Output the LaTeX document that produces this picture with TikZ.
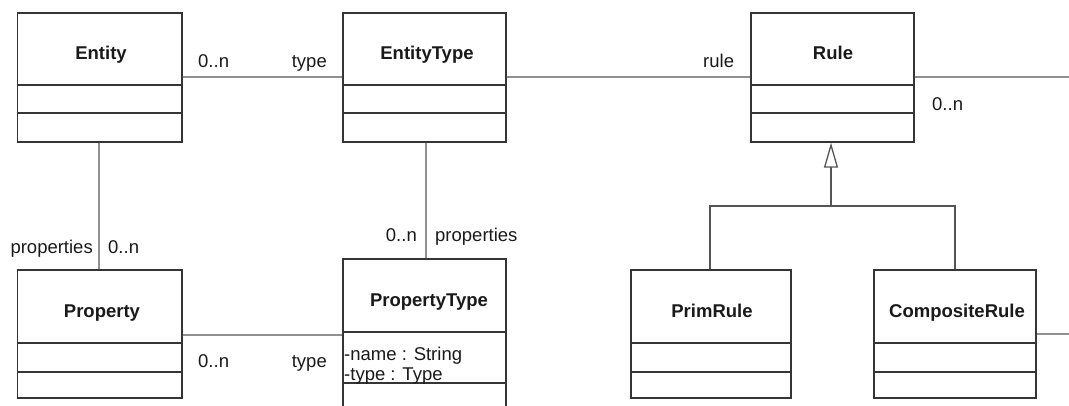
\documentclass[tikz,border=0pt]{standalone}
\usepackage{fontspec}
\setmainfont{Liberation Sans}
\usetikzlibrary{arrows.meta}
\definecolor{boxc}{HTML}{353535}
\definecolor{assoc}{HTML}{909090}
\definecolor{genc}{HTML}{555555}
\definecolor{txt}{HTML}{1A1A1A}
\tikzset{
  cls/.style={draw=boxc, line width=1.4pt, rectangle, inner sep=0pt, fill=white},
  divider/.style={draw=boxc, line width=1.4pt},
  title/.style={font=\fontsize{18.5}{20}\selectfont\bfseries, text=txt, anchor=base, inner sep=0pt},
  lbl/.style={font=\fontsize{18.5}{20}\selectfont, text=txt, inner sep=0pt},
  attr/.style={font=\fontsize{18.5}{20}\selectfont, text=txt, inner sep=0pt, anchor=base west},
  assocline/.style={draw=assoc, line width=1.3pt},
  genline/.style={draw=genc, line width=1.3pt},
}
\begin{document}
\begin{tikzpicture}[x=1pt, y=-1pt]
\useasboundingbox (0,0) rectangle (1069,406);
\clip (0,0) rectangle (1069,406);
\fill[white] (0,0) rectangle (1069,406);

% class boxes
\node[cls, minimum width=164.5pt, minimum height=129pt] (entity) at (99.75,77.5) {};
\node[cls, minimum width=163pt, minimum height=129pt] (etype) at (424.5,77.5) {};
\node[cls, minimum width=163pt, minimum height=129pt] (rule) at (832.5,77.5) {};
\node[cls, minimum width=164.5pt, minimum height=128pt] (property) at (99.75,334) {};
\node[cls, minimum width=163pt, minimum height=180pt] (ptype) at (424.5,349) {};
\node[cls, minimum width=160pt, minimum height=128pt] (prim) at (711,334) {};
\node[cls, minimum width=162pt, minimum height=128pt] (comp) at (955,334) {};

% compartments
\foreach \n in {entity,etype,rule}{
  \draw[divider] (\n.west |- 0,85) -- (\n.east |- 0,85);
  \draw[divider] (\n.west |- 0,113) -- (\n.east |- 0,113);
}
\foreach \n in {property,prim,comp}{
  \draw[divider] (\n.west |- 0,343) -- (\n.east |- 0,343);
  \draw[divider] (\n.west |- 0,372) -- (\n.east |- 0,372);
}
\draw[divider] (ptype.west |- 0,332) -- (ptype.east |- 0,332);
\draw[divider] (ptype.west |- 0,383) -- (ptype.east |- 0,383);

% titles
\node[title] (tEntity) at (101,60) {Entity};
\node[title] (tEType) at (427,60) {EntityType};
\node[title] (tRule) at (833,60) {Rule};
\node[title] (tProp) at (102,318) {Property};
\node[title] (tPType) at (429,306) {PropertyType};
\node[title] (tPrim) at (712,317) {PrimRule};
\node[title] (tComp) at (957,317) {CompositeRule};

% attributes
\node[attr] (a1) at (344,360) {-name : String};
\node[attr] (a2) at (344,380) {-type : Type};

% associations
\coordinate (rOut) at (1075,77);
\coordinate (cOut) at (1075,334);
\draw[assocline] (entity.east |- 0,77) -- (etype.west |- 0,77);
\draw[assocline] (etype.east |- 0,77) -- (rule.west |- 0,77);
\draw[assocline] (rule.east |- rOut) -- (rOut);
\draw[assocline] (entity.south -| 99,0) -- (property.north -| 99,0);
\draw[assocline] (etype.south -| 426,0) -- (ptype.north -| 426,0);
\draw[assocline] (property.east |- 0,335) -- (ptype.west |- 0,335);
\draw[assocline] (comp.east |- cOut) -- (cOut);

% generalization
\coordinate (gj) at (831,206);
\draw[genline] (prim.north -| 710,0) |- (gj) -| (comp.north);
\draw[genline, -{Triangle[open, length=25pt, width=14pt, line width=1.3pt]}] (gj) -- (rule.south -| 831,0);

% multiplicity / role labels
\node[lbl, anchor=base west] (m1) at (198,68) {0..n};
\node[lbl, anchor=base east] (r1) at (327,68) {type};
\node[lbl, anchor=base west] (r2) at (703,68) {rule};
\node[lbl, anchor=base west] (m2) at (932,111) {0..n};
\node[lbl, anchor=base east] (r3) at (93,254) {properties};
\node[lbl, anchor=base west] (m3) at (108,254) {0..n};
\node[lbl, anchor=base east] (m4) at (417,242) {0..n};
\node[lbl, anchor=base west] (r4) at (435,242) {properties};
\node[lbl, anchor=base west] (m5) at (198,367) {0..n};
\node[lbl, anchor=base east] (r5) at (327,367) {type};
\end{tikzpicture}
\end{document}
